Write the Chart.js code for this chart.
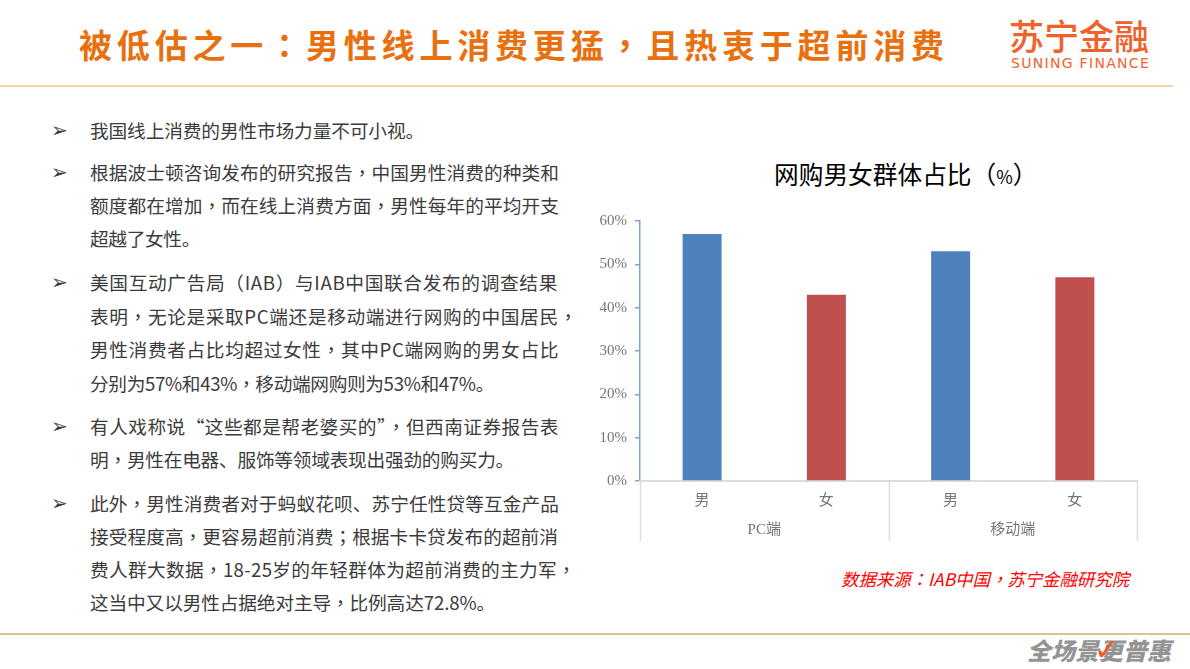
<!DOCTYPE html>
<html>
<head>
<meta charset="utf-8">
<script src="https://cdn.jsdelivr.net/npm/chart.js@4"></script>
<style>
html, body { margin: 0; padding: 0; width: 1190px; height: 669px; overflow: hidden; background: #fff; }
body { position: relative; font-family: "Noto Sans CJK SC", sans-serif; color: #3c3c3c; }
.t { position: absolute; white-space: nowrap; }
.line { position: absolute; height: 2px; }
#chart { position: absolute; left: 590px; top: 150px; }
.row { position: absolute; left: 90px; font-size: 18.7px; line-height: 26px; white-space: nowrap; }
.bullet { position: absolute; left: 51px; font-family: "DejaVu Sans"; font-size: 20px; line-height: 26px; color: #3c3c3c; }
/* the original deck has centred full-width punctuation, the TC cut has it too */
.p { font-family: "Noto Sans CJK TC"; }
</style>
</head>
<body>
<div class="t cjk" style="left:79px;top:20px;font-size:33px;line-height:48px;font-weight:700;letter-spacing:4.82px;color:#e8700f">被低估之一：男性线上消费更猛，且热衷于超前消费</div>
<div class="t" style="left:1009px;top:13px;font-size:35px;line-height:44px;font-weight:500;color:#f0622a">苏宁金融</div>
<div class="t" style="left:1011px;top:54px;font-size:14px;line-height:18px;letter-spacing:1.3px;color:#f0622a;font-family:'DejaVu Sans'">SUNING FINANCE</div>
<div class="line" style="left:0;top:85px;width:1173px;background:#ecd3ac"></div>

<div id="rows"></div>

<div class="t" style="left:774px;top:155px;font-size:24.7px;line-height:36px;color:#000">网购男女群体占比（<span style="font-size:18px">%</span>）</div>
<canvas id="chart" width="600" height="400"></canvas>
<div class="t cjk" style="left:841px;top:566px;font-size:17.4px;line-height:26px;font-style:italic;color:#ff0000">数据来源：IAB中国，苏宁金融研究院</div>

<div class="line" style="left:0;top:633px;width:1190px;background:#dcc193"></div>
<div class="t" style="left:1027px;top:635px;font-size:24px;line-height:30px;font-weight:900;font-style:italic;color:#949494">全场景更普惠</div>
<div class="t" style="left:1094px;top:632px;font-size:30px;line-height:36px;font-weight:700;font-family:'DejaVu Sans';color:#ef5a1c">✓</div>

<script>
const categories = ['男', '女', '男', '女'];
const groups = ['PC端', '移动端'];
const shares = [57, 43, 53, 47];
const barColors = ['#4f81bd', '#c0504d', '#4f81bd', '#c0504d'];

// y, text, right edge of the line, has bullet
const bodyLines = [
    [131, '我国线上消费的男性市场力量不可小视。', 424, true],
    [173, '根据波士顿咨询发布的研究报告，中国男性消费的种类和', 559, true],
    [206, '额度都在增加，而在线上消费方面，男性每年的平均开支', 559],
    [239, '超越了女性。', 200],
    [283, '美国互动广告局（IAB）与IAB中国联合发布的调查结果', 558, true],
    [317, '表明，无论是采取PC端还是移动端进行网购的中国居民，', 578],
    [350, '男性消费者占比均超过女性，其中PC端网购的男女占比', 559],
    [384, '分别为57%和43%，移动端网购则为53%和47%。', 494],
    [427, '有人戏称说“这些都是帮老婆买的”，但西南证券报告表', 559, true],
    [460, '明，男性在电器、服饰等领域表现出强劲的购买力。', 514],
    [504, '此外，男性消费者对于蚂蚁花呗、苏宁任性贷等互金产品', 559, true],
    [537, '接受程度高，更容易超前消费；根据卡卡贷发布的超前消', 558],
    [570, '费人群大数据，18-25岁的年轻群体为超前消费的主力军，', 576],
    [603, '这当中又以男性占据绝对主导，比例高达72.8%。', 495]
];

function markPunct(el) {
    el.innerHTML = el.textContent.replace(/[，：；]/g, '<span class="p" lang="zh-TW">$&</span>');
}

const rows = document.getElementById('rows');
bodyLines.forEach(function (item) {
    const row = document.createElement('div');
    row.className = 'row';
    row.style.top = (item[0] - 14) + 'px';
    row.textContent = item[1];
    rows.appendChild(row);
    markPunct(row);
    const gap = item[2] - 90 - row.getBoundingClientRect().width;
    row.style.letterSpacing = (gap / item[1].length) + 'px';
    if (item[3]) {
        const b = document.createElement('div');
        b.className = 'bullet';
        b.style.top = (item[0] - 14) + 'px';
        b.textContent = '➢';
        rows.appendChild(b);
    }
});
document.querySelectorAll('.cjk').forEach(markPunct);

// group dividers below the axis
const dividers = {
    id: 'dividers',
    afterDraw: function (chart) {
        const x = chart.scales.x;
        const ctx = chart.ctx;
        const bottom = chart.scales.x2.bottom;
        ctx.save();
        ctx.strokeStyle = '#dcdcdc';
        ctx.lineWidth = 1.5;
        [0, 2, 4].forEach(function (i) {
            const px = Math.round(x.left + x.width * i / categories.length) + 0.5;
            ctx.beginPath();
            ctx.moveTo(px, x.top);
            ctx.lineTo(px, bottom);
            ctx.stroke();
        });
        ctx.restore();
    }
};

const labelFont = { family: '"Liberation Serif", "Noto Sans CJK SC"', size: 15 };

new Chart(document.getElementById('chart'), {
    type: 'bar',
    data: {
        labels: categories,
        datasets: [{
            data: shares,
            backgroundColor: barColors,
            categoryPercentage: 1,
            barPercentage: 0.314
        }]
    },
    plugins: [dividers],
    options: {
        responsive: false,
        animation: false,
        layout: { padding: { left: 0, right: 53, top: 71, bottom: 9 } },
        plugins: {
            legend: { display: false },
            tooltip: { enabled: false },
            title: { display: false }
        },
        scales: {
            y: {
                min: 0,
                max: 60,
                afterFit: function (scale) { scale.width = 50; },
                ticks: {
                    stepSize: 10,
                    color: '#767676',
                    font: labelFont,
                    padding: 8,
                    callback: function (v) { return v + '%'; }
                },
                border: { color: '#7ba3d3', width: 1.5 },
                grid: { drawOnChartArea: false, color: '#7ba3d3', lineWidth: 1.5, tickLength: 5 }
            },
            x: {
                weight: 0,
                afterFit: function (scale) { scale.height = 30; },
                ticks: { color: '#767676', font: labelFont, padding: 11 },
                border: { color: '#dcdcdc', width: 2 },
                grid: { display: false, drawTicks: false }
            },
            x2: {
                type: 'category',
                position: 'bottom',
                weight: 1,
                labels: groups,
                offset: true,
                afterFit: function (scale) { scale.height = 30; },
                ticks: { color: '#767676', font: labelFont, padding: 10 },
                border: { display: false },
                grid: { display: false, drawTicks: false }
            }
        }
    }
});
</script>
</body>
</html>
